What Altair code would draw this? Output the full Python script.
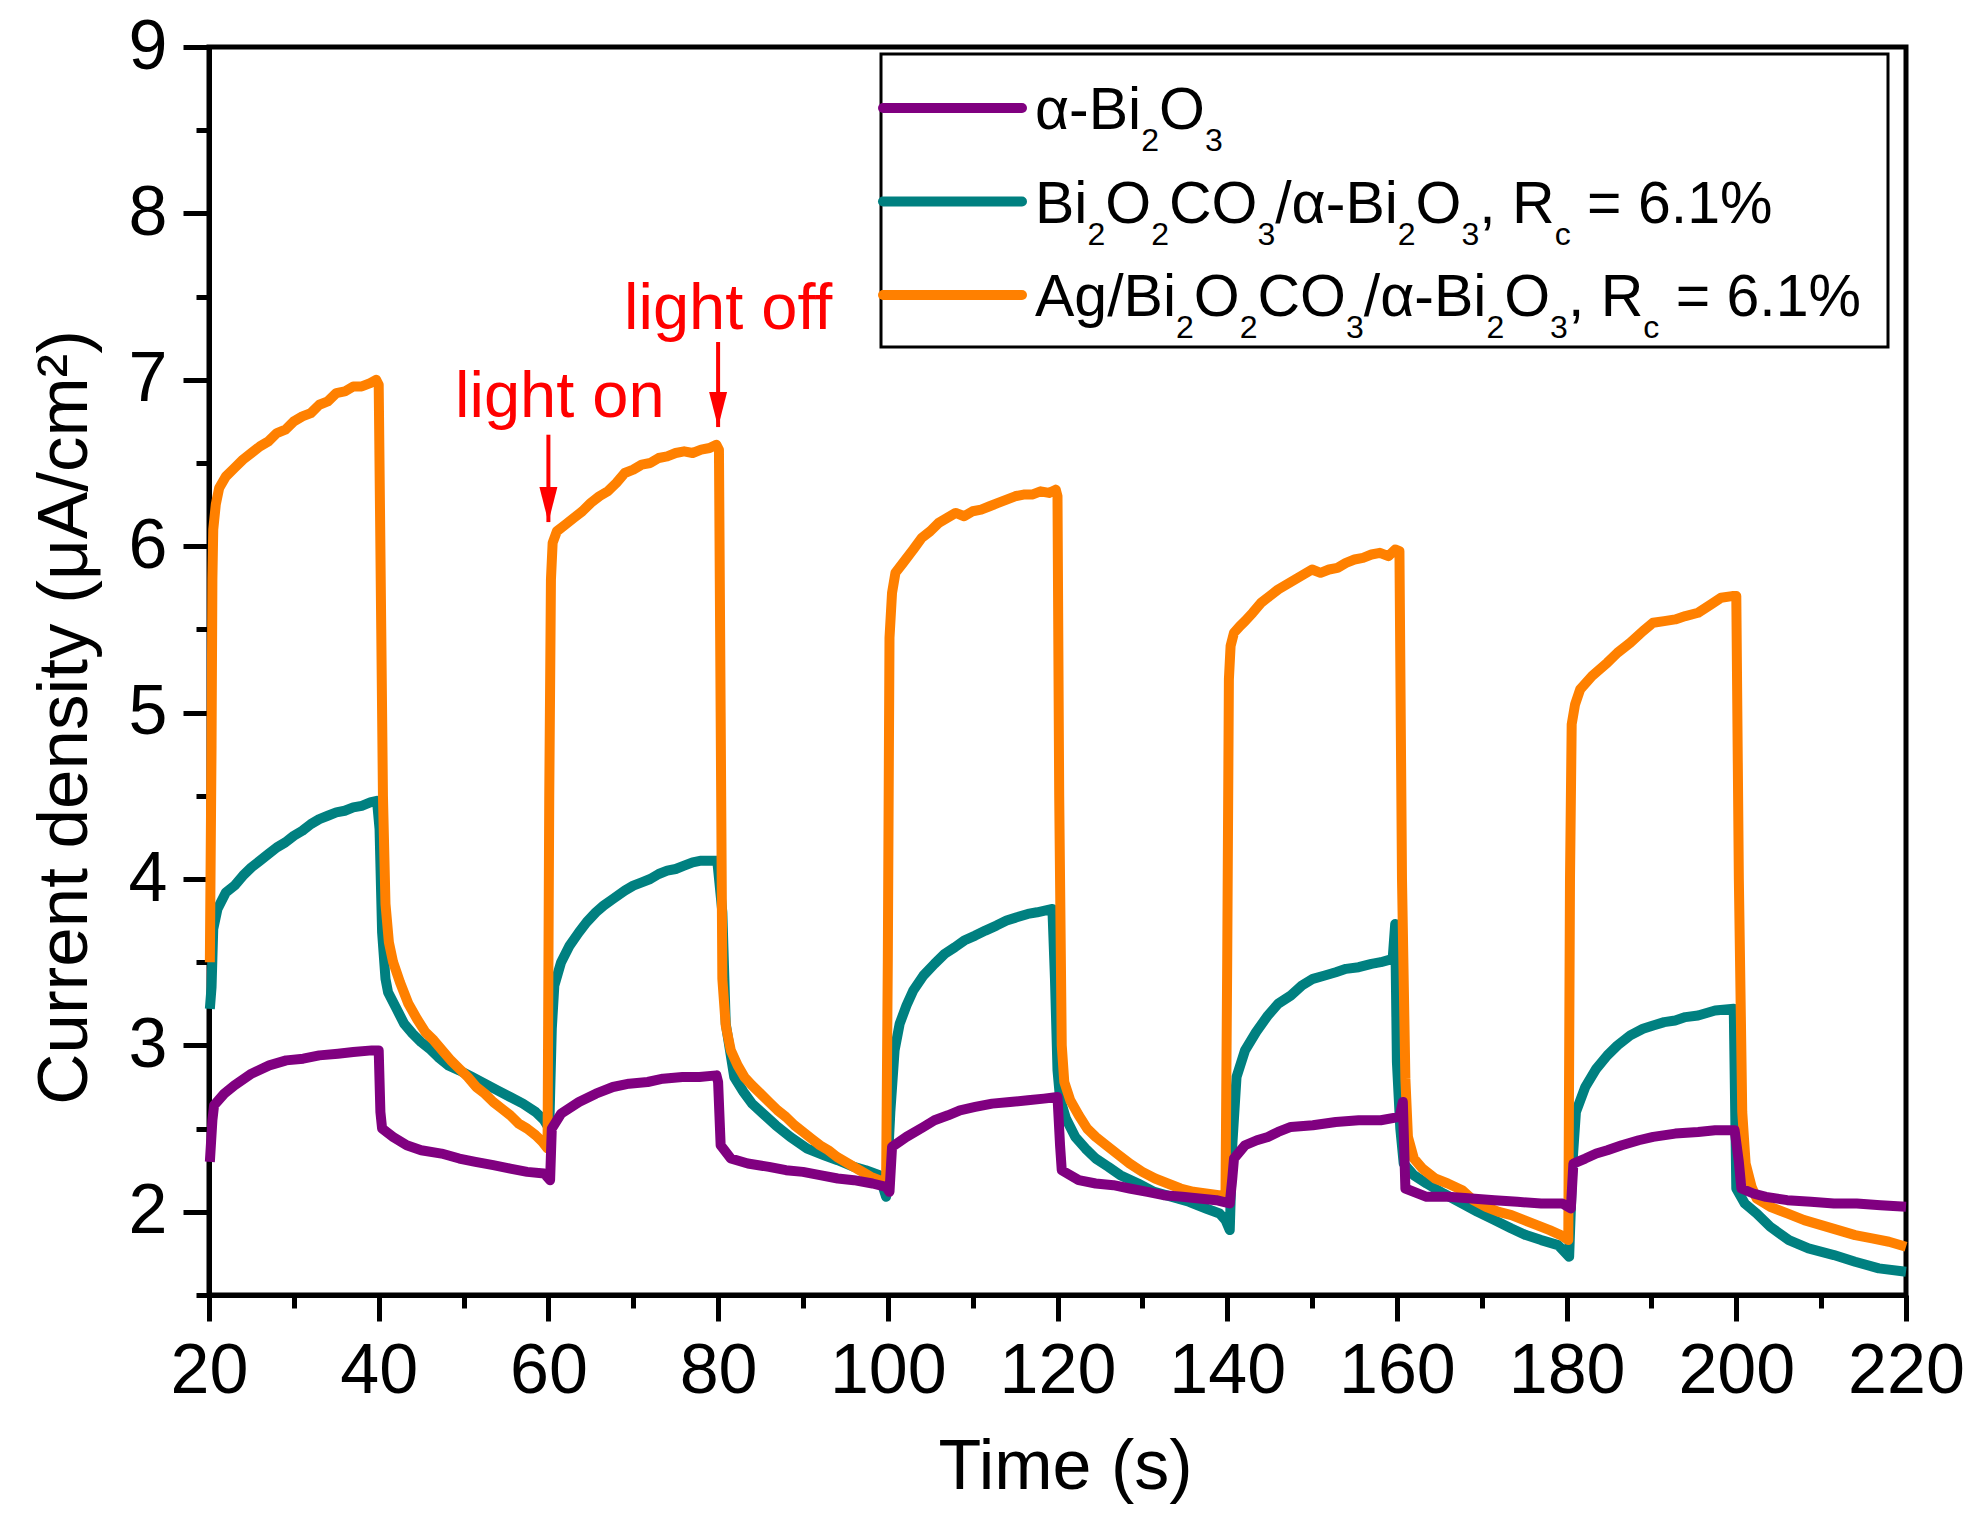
import altair as alt
import pandas as pd

# plot area of the reference, in page pixels
PX_LEFT, PX_TOP, PLOT_W, PLOT_H = 209, 47, 1697, 1248
X_MIN, X_MAX = 20, 220
Y_MIN, Y_MAX = 1.5, 9

FONT = "Liberation Sans, Arial, sans-serif"

PURPLE, TEAL, ORANGE, RED = "#800080", "#008080", "#FF8000", "#FF0000"

# (time s, current density uA/cm2)
BI2O3 = [
    (20.1, 2.30), (20.4, 2.55), (20.6, 2.64), (21.8, 2.71), (23, 2.76), (25, 2.83), (27.1, 2.88), (29.1, 2.91),
    (31.1, 2.92), (33, 2.94), (35.2, 2.95), (37, 2.96), (39.2, 2.97), (40.0, 2.97),
    (40.2, 2.60), (40.4, 2.50), (41.7, 2.45), (43.3, 2.40), (45, 2.37), (47.4, 2.35), (49.5, 2.32), (51.4, 2.30),
    (53.5, 2.28), (55.5, 2.26), (57.5, 2.24), (59.5, 2.23), (60.2, 2.19),
    (60.4, 2.50), (61.5, 2.59), (63.6, 2.66), (65.6, 2.71), (67.6, 2.75), (69.5, 2.77), (71.7, 2.78), (73.5, 2.80),
    (75.8, 2.81), (77.8, 2.81), (79.8, 2.82), (80.0, 2.78),
    (80.3, 2.40), (81.5, 2.32), (83.5, 2.29), (86, 2.27), (88, 2.25), (90, 2.24), (92, 2.22), (94.1, 2.20),
    (96, 2.19), (98.2, 2.17), (99.8, 2.15), (100.2, 2.12),
    (100.5, 2.39), (102.2, 2.45), (104.2, 2.51), (105.5, 2.55), (107.1, 2.58), (108.5, 2.61), (110.3, 2.63),
    (112.3, 2.65), (114.4, 2.66), (116.5, 2.67), (118.4, 2.68), (120.0, 2.69),
    (120.3, 2.40), (120.5, 2.25), (122.5, 2.19), (124.5, 2.17), (126.6, 2.16), (128.5, 2.14), (130.6, 2.12),
    (132.5, 2.10), (134.7, 2.09), (136.7, 2.08), (138.7, 2.07), (140.3, 2.05),
    (140.6, 2.20), (140.8, 2.32), (142.1, 2.40), (143.5, 2.43), (144.8, 2.45), (146, 2.48), (147.5, 2.51),
    (150.1, 2.52), (152.8, 2.54), (155.5, 2.55), (158.1, 2.55), (160.3, 2.57), (160.7, 2.66),
    (161.0, 2.14), (163.5, 2.09), (166, 2.09), (168.8, 2.08), (171.5, 2.07), (174.2, 2.06), (177, 2.05),
    (179.5, 2.05), (180.5, 2.02),
    (180.8, 2.29), (182.2, 2.32), (183.5, 2.35), (184.8, 2.37), (186.5, 2.40), (188.5, 2.43), (190.2, 2.45),
    (192.8, 2.47), (195.5, 2.48), (197.5, 2.49), (199.8, 2.49),
    (200.3, 2.30), (200.6, 2.14), (202, 2.11), (203.5, 2.09), (206, 2.07), (208.8, 2.06), (211.5, 2.05),
    (214.2, 2.05), (217, 2.04), (220, 2.03),
]

BOC = [
    (20.1, 3.22), (20.3, 3.35), (20.5, 3.70), (21, 3.82), (21.4, 3.86), (22, 3.92), (23, 3.96), (24, 4.02),
    (25, 4.07), (26, 4.11), (27, 4.15), (28, 4.19), (29, 4.22), (30, 4.26), (31, 4.29), (32, 4.33), (33, 4.36),
    (34, 4.38), (35, 4.40), (36, 4.41), (37, 4.43), (38, 4.44), (39, 4.46), (39.8, 4.47),
    (40.1, 4.30), (40.4, 3.68), (40.8, 3.40), (41.1, 3.32), (42.1, 3.22), (43, 3.13), (44, 3.07), (45, 3.02),
    (46, 2.98), (47, 2.93), (48.2, 2.88), (49.5, 2.85), (51, 2.81), (52.5, 2.77), (54, 2.73), (55.5, 2.69),
    (57, 2.65), (58.5, 2.60), (59.5, 2.55), (60.1, 2.50),
    (60.4, 3.10), (60.7, 3.36), (61.5, 3.50), (62.5, 3.60), (63.6, 3.68), (64.5, 3.74), (65.6, 3.80), (66.5, 3.84),
    (67.6, 3.88), (69, 3.93), (70, 3.96), (71, 3.98), (72, 4.00), (73, 4.03), (74, 4.05), (75, 4.06), (76, 4.08),
    (77, 4.10), (78, 4.11), (79, 4.11), (79.9, 4.11),
    (80.5, 3.80), (80.9, 3.13), (81.9, 2.81), (83, 2.72), (84, 2.65), (85.5, 2.58), (86.8, 2.52), (88.5, 2.45),
    (90.5, 2.38), (92.5, 2.34), (94.1, 2.31), (96, 2.27), (97.4, 2.25), (99, 2.22), (99.8, 2.09),
    (100.3, 2.60), (100.8, 2.97), (101.4, 3.13), (102.2, 3.24), (103, 3.33), (104.2, 3.42), (105.5, 3.49),
    (106.7, 3.55), (107.9, 3.59), (109, 3.63), (110.3, 3.66), (111.5, 3.69), (112.8, 3.72), (114, 3.75),
    (115.2, 3.77), (116.5, 3.79), (117.6, 3.80), (118.5, 3.81), (119.4, 3.82),
    (119.7, 3.40), (120.0, 2.85), (120.3, 2.68), (121, 2.56), (122.1, 2.45), (123.3, 2.38), (124.5, 2.32),
    (126, 2.27), (127.4, 2.22), (129.5, 2.17), (131.4, 2.12), (133.5, 2.09), (135.5, 2.06), (137.5, 2.02),
    (139.1, 1.99), (139.8, 1.95), (140.3, 1.89),
    (140.6, 2.40), (141.1, 2.81), (142.1, 2.97), (143.4, 3.08), (144.8, 3.18), (146, 3.25), (147.5, 3.30),
    (148.8, 3.36), (150.1, 3.40), (151.5, 3.42), (152.8, 3.44), (154, 3.46), (155.5, 3.47), (157, 3.49),
    (158.1, 3.50), (159.5, 3.52), (159.8, 3.73),
    (160.0, 2.90), (160.4, 2.50), (160.8, 2.29), (162, 2.22), (163.5, 2.17), (165.5, 2.11), (167.7, 2.05),
    (169.5, 2.00), (171.5, 1.95), (173.5, 1.90), (175.2, 1.86), (177, 1.83), (179, 1.80), (180.3, 1.73),
    (180.7, 2.30), (181.1, 2.60), (182.2, 2.75), (183.5, 2.86), (184.8, 2.94), (186, 3.00), (187.5, 3.06),
    (189, 3.10), (190.2, 3.12), (191.5, 3.14), (192.8, 3.15), (194, 3.17), (195.5, 3.18), (197.5, 3.21),
    (199.7, 3.22),
    (200.0, 2.14), (201, 2.05), (202.4, 1.99), (204, 1.91), (206.2, 1.83), (208.5, 1.78), (211.5, 1.74),
    (214, 1.70), (216.8, 1.66), (220, 1.64),
]

AG = [
    (20.1, 3.50), (20.3, 4.80), (20.4, 5.80), (20.5, 6.10), (20.8, 6.25), (21.2, 6.35), (22, 6.42), (23, 6.47),
    (24, 6.52), (25, 6.56), (26, 6.60), (27, 6.63), (28, 6.68), (29, 6.70), (30, 6.75), (31, 6.78), (32, 6.80),
    (33, 6.85), (34, 6.87), (35, 6.92), (36, 6.93), (37, 6.96), (38, 6.96), (39, 6.98), (39.7, 7.00), (40.0, 6.97),
    (40.3, 5.50), (40.5, 4.50), (40.8, 3.85), (41.2, 3.62), (41.7, 3.50), (42.5, 3.38), (43.5, 3.25), (44.5, 3.16),
    (45.5, 3.08), (46.5, 3.03), (47.5, 2.97), (48.5, 2.91), (49.5, 2.86), (50.5, 2.81), (51.5, 2.75), (52.5, 2.71),
    (53.5, 2.66), (54.5, 2.62), (55.5, 2.58), (56.5, 2.53), (57.5, 2.50), (58.5, 2.46), (59.3, 2.42), (59.9, 2.38),
    (60.1, 4.50), (60.3, 5.80), (60.5, 6.02), (61, 6.09), (62, 6.13), (63, 6.17), (64, 6.21), (65, 6.26),
    (66, 6.30), (67, 6.33), (68, 6.38), (69, 6.44), (70, 6.46), (71, 6.49), (72, 6.50), (73, 6.53), (74, 6.54),
    (75, 6.56), (76, 6.57), (77, 6.56), (78, 6.58), (79, 6.59), (79.8, 6.61), (80.1, 6.58),
    (80.3, 5.00), (80.5, 3.40), (80.9, 3.12), (81.5, 2.97), (82.3, 2.88), (83.1, 2.81), (84, 2.76), (85, 2.71),
    (86, 2.66), (87, 2.61), (88, 2.57), (89, 2.52), (90, 2.48), (91, 2.44), (92, 2.40), (93, 2.37), (94, 2.33),
    (95, 2.30), (96, 2.27), (97, 2.24), (98, 2.21), (99, 2.19), (99.8, 2.17),
    (100.0, 3.50), (100.2, 5.45), (100.5, 5.72), (100.9, 5.84), (101.8, 5.90), (103, 5.98), (104, 6.05),
    (105, 6.09), (106, 6.14), (107, 6.17), (108, 6.20), (109, 6.18), (110, 6.21), (111, 6.22), (112, 6.24),
    (113, 6.26), (114, 6.28), (115, 6.30), (116, 6.31), (117, 6.31), (118, 6.33), (119, 6.32), (119.8, 6.34),
    (120.0, 6.30),
    (120.2, 4.50), (120.5, 3.00), (120.8, 2.78), (121.5, 2.67), (122.5, 2.58), (123.5, 2.50), (124.5, 2.45),
    (125.5, 2.41), (127, 2.35), (128.5, 2.29), (130, 2.24), (131.5, 2.20), (133, 2.17), (134.5, 2.14),
    (136, 2.12), (137.5, 2.11), (139, 2.10), (139.8, 2.10),
    (140.0, 3.50), (140.2, 5.20), (140.4, 5.40), (140.8, 5.48), (141.5, 5.52), (142.1, 5.55), (143, 5.60),
    (144, 5.66), (145, 5.70), (146, 5.74), (147, 5.77), (148, 5.80), (149, 5.83), (150, 5.86), (151, 5.84),
    (152, 5.86), (153, 5.87), (154, 5.90), (155, 5.92), (156, 5.93), (157, 5.95), (158, 5.96), (159, 5.94),
    (159.8, 5.98), (160.3, 5.97),
    (160.6, 4.00), (161, 2.80), (161.3, 2.45), (162, 2.32), (163, 2.26), (164.5, 2.20), (166, 2.17),
    (167.7, 2.13), (169, 2.07), (170.5, 2.03), (172, 2.00), (173.5, 1.98), (175, 1.95), (176.5, 1.92),
    (178, 1.89), (179.3, 1.86), (180.2, 1.83),
    (180.4, 4.00), (180.6, 4.93), (181, 5.05), (181.6, 5.14), (183, 5.22), (184.8, 5.30), (186, 5.36),
    (187.5, 5.42), (189, 5.49), (190.2, 5.54), (191.5, 5.55), (192.8, 5.56), (194, 5.58), (195.5, 5.60),
    (197, 5.65), (198.2, 5.69), (199.5, 5.70), (200.0, 5.70),
    (200.3, 4.00), (200.7, 2.60), (201.1, 2.29), (201.8, 2.15), (202.4, 2.08), (204, 2.03), (206, 1.99),
    (208, 1.95), (210, 1.92), (212, 1.89), (214, 1.86), (216, 1.84), (218, 1.82), (220, 1.79),
]

X_TICKS = [20, 30, 40, 50, 60, 70, 80, 90, 100, 110, 120, 130, 140, 150, 160, 170, 180, 190, 200, 210, 220]
Y_TICKS = [1.5, 2, 2.5, 3, 3.5, 4, 4.5, 5, 5.5, 6, 6.5, 7, 7.5, 8, 8.5, 9]

# legend entries: colour and label pieces (text, is_subscript)
LEGEND = [
    (PURPLE, [("α-Bi", 0), ("2", 1), ("O", 0), ("3", 1)]),
    (TEAL, [("Bi", 0), ("2", 1), ("O", 0), ("2", 1), ("CO", 0), ("3", 1), ("/α-Bi", 0), ("2", 1),
            ("O", 0), ("3", 1), (", R", 0), ("c", 1), (" = 6.1%", 0)]),
    (ORANGE, [("Ag/Bi", 0), ("2", 1), ("O", 0), ("2", 1), ("CO", 0), ("3", 1), ("/α-Bi", 0), ("2", 1),
              ("O", 0), ("3", 1), (", R", 0), ("c", 1), (" = 6.1%", 0)]),
]

# annotations: light on / light off arrows (time, arrow top, arrow tip)
ARROWS = [(60, 6.67, 6.145), (80, 7.227, 6.716)]
NOTES = [("light on", 455, 417), ("light off", 624, 329)]


def px_to_t(px):
    return X_MIN + (px - PX_LEFT) * (X_MAX - X_MIN) / PLOT_W


def py_to_v(py):
    return Y_MAX - (py - PX_TOP) * (Y_MAX - Y_MIN) / PLOT_H


# Arial / Liberation Sans advance widths (em)
ADV = {"A": .667, "g": .556, "/": .278, "B": .667, "i": .222, "O": .778, "C": .722, "α": .578,
       "-": .333, ",": .278, " ": .278, "R": .722, "=": .584, "6": .556, ".": .278, "1": .556,
       "%": .889, "2": .556, "3": .556, "c": .5}
MAIN_FS, SUB_FS, SUB_DROP = 59, 32, 22

x_axis = alt.Axis(
    values=X_TICKS,
    labelExpr="datum.value % 20 === 0 ? datum.label : ''",
    tickSize={"condition": {"test": "datum.value % 20 === 0", "value": 26}, "value": 13},
    tickWidth=5, tickColor="black", domainWidth=5, domainColor="black", grid=False,
    labelFont=FONT, labelFontSize=70, labelColor="black", labelBaseline="alphabetic",
    labelPadding=71, labelFlush=False, labelOverlap=False,
    title="Time (s)", titleFont=FONT, titleFontSize=70, titleFontWeight="normal", titleColor="black",
    titleX=856, titleY=193, titleBaseline="alphabetic", titleAlign="center",
)
y_axis = alt.Axis(
    values=Y_TICKS,
    labelExpr="datum.value % 1 === 0 ? format(datum.value, 'd') : ''",
    tickSize={"condition": {"test": "datum.value % 1 === 0", "value": 26}, "value": 13},
    tickWidth=5, tickColor="black", domainWidth=5, domainColor="black", grid=False,
    labelFont=FONT, labelFontSize=70, labelColor="black", labelPadding=16, labelOverlap=False,
    title="Current density (μA/cm²)", titleFont=FONT, titleFontSize=71, titleFontWeight="normal",
    titleColor="black", titleX=-123, titleY=670, titleBaseline="alphabetic", titleAlign="center",
)

X = alt.X("t:Q", scale=alt.Scale(domain=[X_MIN, X_MAX], nice=False, zero=False), axis=x_axis)
Y = alt.Y("v:Q", scale=alt.Scale(domain=[Y_MIN, Y_MAX], nice=False, zero=False), axis=y_axis)


def curve(points, color):
    df = pd.DataFrame(points, columns=["t", "v"])
    return alt.Chart(df).mark_line(color=color, strokeWidth=10, strokeJoin="round").encode(x=X, y=Y)


# legend pieces
rows_box = pd.DataFrame([{"t": px_to_t(881), "t2": px_to_t(1888), "v": py_to_v(54), "v2": py_to_v(347)}])
rows_line, main_txt, sub_txt = [], [], []
for i, (color, pieces) in enumerate(LEGEND):
    line_py = 108 + i * 93.5
    base_py = 129 + i * 93.5
    rows_line.append({"t": px_to_t(883), "t2": px_to_t(1022), "v": py_to_v(line_py), "c": color})
    x = 1035
    for txt, sub in pieces:
        fs = SUB_FS if sub else MAIN_FS
        lead = len(txt) - len(txt.lstrip())
        row = {"t": px_to_t(x + lead * ADV[" "] * fs),
               "v": py_to_v(base_py + (SUB_DROP if sub else 0)), "txt": txt.lstrip()}
        (sub_txt if sub else main_txt).append(row)
        x += sum(ADV[ch] for ch in txt) * fs

legend_box = alt.Chart(rows_box).mark_rect(fill="white", stroke="black", strokeWidth=3).encode(
    x=X, x2="t2:Q", y=Y, y2="v2:Q")
legend_lines = alt.Chart(pd.DataFrame(rows_line)).mark_rule(strokeWidth=10, strokeCap="round").encode(
    x=X, x2="t2:Q", y=Y, color=alt.Color("c:N", scale=None))
legend_main = alt.Chart(pd.DataFrame(main_txt)).mark_text(
    align="left", baseline="alphabetic", font=FONT, fontSize=MAIN_FS, color="black").encode(
    x=X, y=Y, text="txt:N")
legend_sub = alt.Chart(pd.DataFrame(sub_txt)).mark_text(
    align="left", baseline="alphabetic", font=FONT, fontSize=SUB_FS, color="black").encode(
    x=X, y=Y, text="txt:N")

notes = pd.DataFrame([{"t": px_to_t(px), "v": py_to_v(py), "txt": txt} for txt, px, py in NOTES])
note_text = alt.Chart(notes).mark_text(
    align="left", baseline="alphabetic", font=FONT, fontSize=65, color=RED).encode(x=X, y=Y, text="txt:N")

arrows = pd.DataFrame(ARROWS, columns=["t", "v", "v2"])
arrow_shaft = alt.Chart(arrows).mark_rule(color=RED, strokeWidth=4).encode(x=X, y=Y, y2="v2:Q")
arrow_head = alt.Chart(arrows).mark_point(
    shape="M-0.514,-1L0.514,-1L0,1Z", size=1225, filled=True, opacity=1, color=RED, yOffset=-17.5
).encode(x=X, y=alt.Y("v2:Q"))

chart = alt.layer(
    curve(BOC, TEAL), curve(AG, ORANGE), curve(BI2O3, PURPLE),
    legend_box, legend_lines, legend_main, legend_sub,
    note_text, arrow_shaft, arrow_head,
).properties(
    width=PLOT_W, height=PLOT_H,
    autosize=alt.AutoSizeParams(type="none"),
    padding={"left": PX_LEFT - 8, "top": PX_TOP - 8, "right": 58, "bottom": 212},
    background="white",
).configure_view(stroke="black", strokeWidth=5)

chart.save("out.html", embed_options={"renderer": "svg", "actions": False})
